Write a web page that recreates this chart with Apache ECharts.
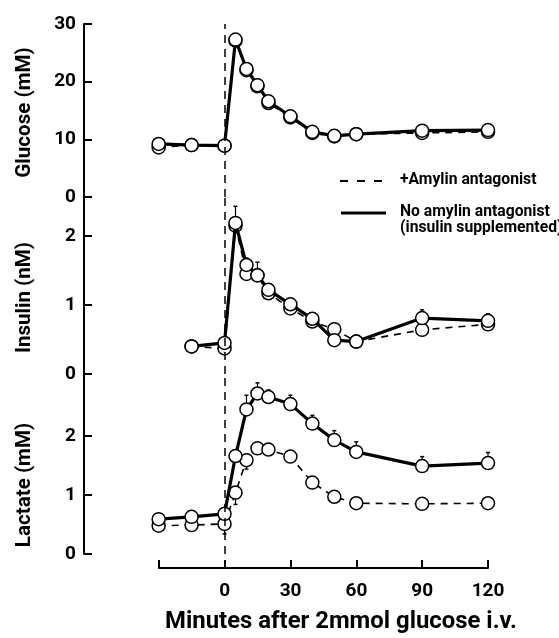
<!DOCTYPE html>
<html><head><meta charset="utf-8">
<script src="https://cdn.jsdelivr.net/npm/echarts@6/dist/echarts.min.js"></script>
<style>html,body{margin:0;padding:0;background:#fff}#c{width:559px;height:638px}</style>
</head><body><div id="c"></div>
<script>
const FONT = "Roboto,'Open Sans','DejaVu Sans',sans-serif";

const glucoseTimes = [-30, -15, 0, 5, 10, 15, 20, 30, 40, 50, 60, 90, 120];
const glucoseSolid = [9.2, 9.0, 8.9, 27.3, 22.2, 19.4, 16.6, 14.0, 11.3, 10.6, 10.9, 11.5, 11.6];
const glucoseDashed = [8.6, 9.0, 8.9, 27.1, 22.0, 19.2, 16.3, 13.8, 11.1, 10.5, 10.9, 11.1, 11.3];

const insulinTimes = [-15, 0, 5, 10, 15, 20, 30, 40, 50, 60, 90, 120];
const insulinSolid = [0.40, 0.45, 2.19, 1.58, 1.43, 1.22, 1.01, 0.80, 0.49, 0.47, 0.81, 0.77];
const insulinDashed = [0.40, 0.37, 2.15, 1.45, 1.43, 1.17, 0.95, 0.76, 0.65, 0.47, 0.64, 0.72];
const insulinSolidErr = [0, 0, 0.24, 0.1, 0.19, 0.08, 0, 0, 0, 0, 0.12, 0.1];

const lactateTimes = [-30, -15, 0, 5, 10, 15, 20, 30, 40, 50, 60, 90, 120];
const lactateSolid = [0.59, 0.63, 0.68, 1.66, 2.45, 2.72, 2.66, 2.54, 2.21, 1.93, 1.73, 1.49, 1.54];
const lactateDashed = [0.48, 0.49, 0.51, 1.04, 1.59, 1.79, 1.77, 1.65, 1.21, 0.97, 0.86, 0.85, 0.86];
const lactateSolidErr = [0, 0, 0, 0.1, 0.24, 0.18, 0.12, 0.15, 0.14, 0.16, 0.17, 0.16, 0.18];
const lactateDashedErr = [0, 0, 0.17, 0.2, 0.15, 0, 0, 0, 0, 0, 0, 0, 0];

const xTickValues = [-30, 0, 30, 60, 90, 120];
const glucoseTicks = [0, 10, 20, 30];
const insulinTicks = [0, 1, 2];
const lactateTicks = [0, 1, 2];

const legendLabels = ['+Amylin antagonist', 'No amylin antagonist', '(insulin supplemented)'];
const xTitle = 'Minutes after 2mmol glucose i.v.';
const yTitles = ['Glucose (mM)', 'Insulin (nM)', 'Lactate (mM)'];

// font size fitted to a target text width (layout only)
const mctx = document.createElement('canvas').getContext('2d');
function fit(text, width) {
  mctx.font = 'bold 100px ' + FONT;
  return 100 * width / mctx.measureText(text).width;
}
const legendSize = Math.min(fit(legendLabels[0], 141), fit(legendLabels[1], 150));
const xTitleSize = fit(xTitle, 352);
const yTitleSize = (fit(yTitles[0], 130) + fit(yTitles[1], 110) + fit(yTitles[2], 126)) / 3;

const zip = (t, v) => t.map((x, i) => [x, v[i]]);

function errSeries(g, times, vals, errs, dir) {
  const data = [];
  times.forEach((t, i) => { if (errs[i] > 0) data.push([t, vals[i], vals[i] + dir * errs[i]]); });
  return {
    type: 'custom', xAxisIndex: g, yAxisIndex: g, z: 1, silent: true, data,
    renderItem: (params, api) => {
      const p0 = api.coord([api.value(0), api.value(1)]);
      const p1 = api.coord([api.value(0), api.value(2)]);
      return { type: 'group', children: [
        { type: 'line', shape: { x1: p0[0], y1: p0[1], x2: p1[0], y2: p1[1] }, style: { stroke: '#000', lineWidth: 1.2 } },
        { type: 'line', shape: { x1: p1[0] - 2, y1: p1[1], x2: p1[0] + 2, y2: p1[1] }, style: { stroke: '#000', lineWidth: 1.5 } }
      ]};
    }
  };
}

const symStyle = { color: '#fff', borderColor: '#000', borderWidth: 1.5 };
function solid(g, data) {
  return { type: 'line', xAxisIndex: g, yAxisIndex: g, data, symbol: 'circle', symbolSize: 13,
    showAllSymbol: true, lineStyle: { color: '#000', width: 3.2 }, itemStyle: symStyle, z: 3, silent: true, animation: false };
}
function dashed(g, data) {
  return { type: 'line', xAxisIndex: g, yAxisIndex: g, data, symbol: 'circle', symbolSize: 13,
    showAllSymbol: true, lineStyle: { color: '#000', width: 1.6, type: [7, 6] }, itemStyle: symStyle, z: 2, silent: true, animation: false,
    markLine: { silent: true, symbol: 'none', animation: false, label: { show: false },
      lineStyle: { color: '#000', width: 1.5, type: [8, 6] }, data: [{ xAxis: 0 }] } };
}

const labelStyle = { color: '#000', fontFamily: FONT, fontWeight: 'bold', fontSize: 19 };
// shiftDown: move the rotated title down along the axis (pixels)
function yAxis(g, max, ticks, name, shiftDown) {
  return {
    gridIndex: g, type: 'value', min: 0, max,
    name, nameLocation: 'middle', nameGap: 49,
    nameTextStyle: { color: '#000', fontFamily: FONT, fontWeight: 'bold', fontSize: yTitleSize, padding: [0, 2 * shiftDown, 0, 0] },
    axisLine: { show: true, onZero: false, lineStyle: { color: '#000', width: 2 } },
    axisTick: { show: true, inside: true, length: 8, lineStyle: { color: '#000', width: 2 }, customValues: ticks },
    axisLabel: Object.assign({ margin: 8, customValues: ticks }, labelStyle),
    splitLine: { show: false }
  };
}
function hiddenX(g) {
  return { gridIndex: g, type: 'value', min: -64, max: 120, show: false };
}

const option = {
  backgroundColor: '#fff',
  animation: false,
  grid: [
    { left: 84, right: 71, top: 24, height: 173 },
    { left: 84, right: 71, top: 197, height: 177 },
    { left: 84, right: 71, top: 374, height: 180 },
    { left: 159, right: 71, top: 374, height: 194 }
  ],
  xAxis: [hiddenX(0), hiddenX(1), hiddenX(2), {
    gridIndex: 3, type: 'value', min: -30, max: 120, interval: 30, position: 'bottom',
    name: xTitle, nameLocation: 'middle', nameGap: 42,
    nameTextStyle: { color: '#000', fontFamily: FONT, fontWeight: 'bold', fontSize: xTitleSize, padding: [0, 0, 0, 35] },
    axisLine: { show: true, onZero: false, lineStyle: { color: '#000', width: 2 } },
    axisTick: { show: true, inside: true, length: 8, lineStyle: { color: '#000', width: 2 }, customValues: xTickValues },
    axisLabel: Object.assign({ margin: 14, formatter: v => (v < 0 ? '' : String(v)) }, labelStyle),
    splitLine: { show: false }
  }],
  yAxis: [
    yAxis(0, 30, glucoseTicks, yTitles[0], 2),
    yAxis(1, 2.565, insulinTicks, yTitles[1], 12),
    yAxis(2, 3.05, lactateTicks, yTitles[2], 21),
    { gridIndex: 3, type: 'value', min: 0, max: 1, show: false }
  ],
  series: [
    dashed(0, zip(glucoseTimes, glucoseDashed)),
    solid(0, zip(glucoseTimes, glucoseSolid)),
    errSeries(1, insulinTimes, insulinSolid, insulinSolidErr, 1),
    dashed(1, zip(insulinTimes, insulinDashed)),
    solid(1, zip(insulinTimes, insulinSolid)),
    errSeries(2, lactateTimes, lactateSolid, lactateSolidErr, 1),
    errSeries(2, lactateTimes, lactateDashed, lactateDashedErr, -1),
    dashed(2, zip(lactateTimes, lactateDashed)),
    solid(2, zip(lactateTimes, lactateSolid))
  ],
  graphic: [
    { type: 'line', shape: { x1: 340, y1: 181, x2: 384, y2: 181 }, style: { stroke: '#000', lineWidth: 2, lineDash: [8, 9] } },
    { type: 'text', x: 400, y: 180, style: { text: legendLabels[0], fill: '#000', font: 'bold ' + legendSize + 'px ' + FONT, verticalAlign: 'middle' } },
    { type: 'line', shape: { x1: 341, y1: 213, x2: 386, y2: 213 }, style: { stroke: '#000', lineWidth: 3.2 } },
    { type: 'text', x: 400, y: 212, style: { text: legendLabels[1], fill: '#000', font: 'bold ' + legendSize + 'px ' + FONT, verticalAlign: 'middle' } },
    { type: 'text', x: 400, y: 228, style: { text: legendLabels[2], fill: '#000', font: 'bold ' + legendSize + 'px ' + FONT, verticalAlign: 'middle' } }
  ]
};

const chart = echarts.init(document.getElementById('c'), null, { renderer: 'canvas' });
chart.setOption(option);
</script>
</body></html>
